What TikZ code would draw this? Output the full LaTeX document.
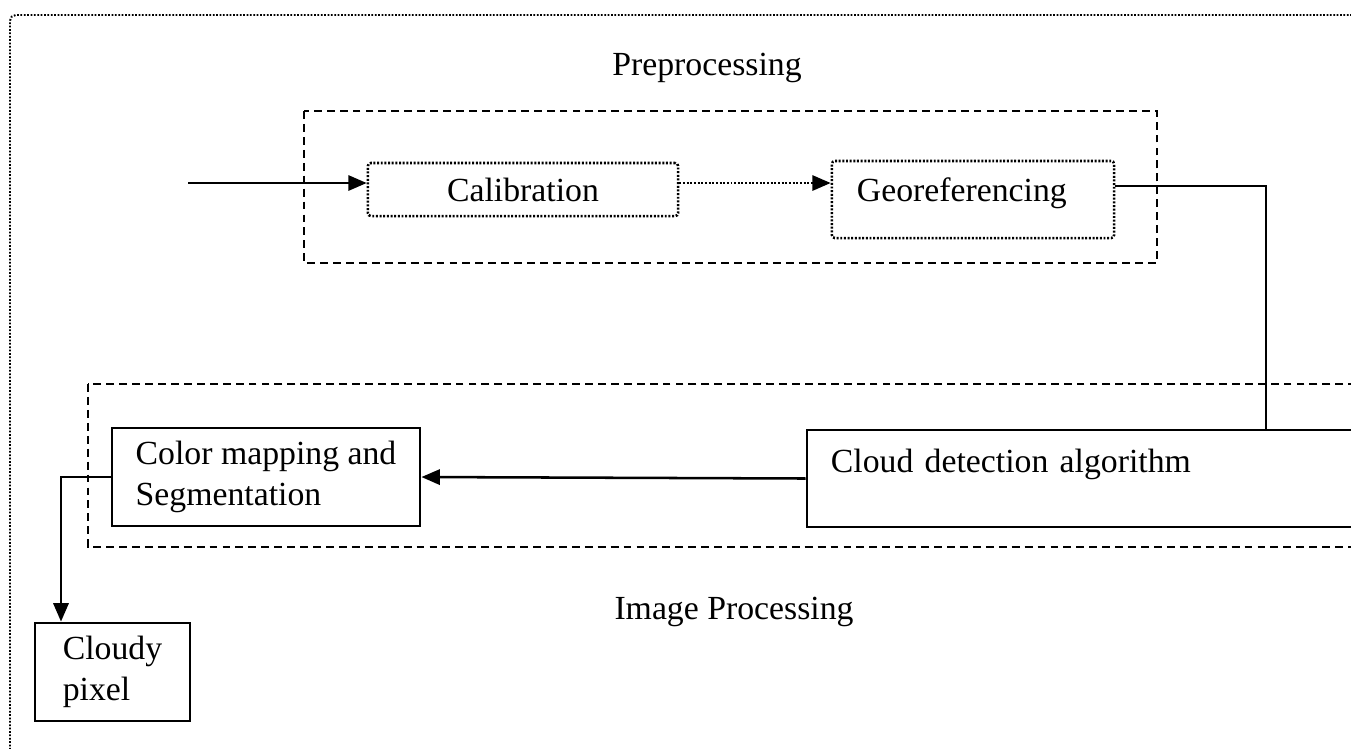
\documentclass[tikz,border=0pt]{standalone}
\usepackage{fontspec}
\setmainfont{Liberation Serif}
\usetikzlibrary{arrows.meta}
\tikzset{
dottedboxv1/.style={rectangle, draw=black!100,fill=none,line width=0.9pt, dash pattern=on 0.7pt off 0.6pt, rounded corners=1pt, inner sep=0pt},
solidboxv1/.style={rectangle, draw=black!100,fill=none,line width=1pt, inner sep=0pt},
groupboxv1/.style={draw=black!100,line width=0.9pt, dash pattern=on 2.8pt off 1.8pt},
titlenodev1/.style={inner sep=0pt},
arrowv1/.style={-{Triangle[length=2.3mm,width=1.9mm]}},
}

\begin{document}
\begin{tikzpicture}[x=0.0125cm, y=-0.0125cm, every node/.style={font=\fontsize{12}{14.4}\selectfont}]
\useasboundingbox (0,0) rectangle (1351,748);
\clip (0,0) rectangle (1351,748);
\draw[line width=0.7pt, dash pattern=on 0.6pt off 0.6pt, rounded corners=2pt] (10,780) -- (10,15) -- (1380,15);

\node[titlenodev1] at (707,68) (pretitle) {Preprocessing};
\draw[groupboxv1] (304,111) rectangle (1157,263);
\node[dottedboxv1, minimum width=3.875cm, minimum height=0.6625cm] at (523,189.5) (calib) {Calibration};
\node[dottedboxv1, minimum width=3.525cm, minimum height=0.9625cm, text width=2.9cm, inner xsep=0.3125cm, align=left, text depth=0.24cm] at (973,199.5) (georef) {Georeferencing};
\coordinate (inputstart) at (188,183);
\draw[line width=0.9pt,black,arrowv1] (inputstart) -- (inputstart -| calib.west);
\draw[black,line width=0.9pt, dash pattern=on 0.7pt off 0.6pt,arrowv1] (calib.east |- inputstart) -- (georef.west |- inputstart);

\node[titlenodev1] at (734,612) (imgtitle) {Image Processing};
\draw[groupboxv1] (88,384) rectangle (1400,547);
\node[solidboxv1, minimum width=7.6625cm, minimum height=1.2125cm, text width=7.0625cm, inner xsep=0.3cm, align=left, text depth=0.45cm] at (1113.5,478.5) (cloud) {Cloud detection algorithm};
\node[solidboxv1, minimum width=3.85cm, minimum height=1.225cm, align=left] at (266,477) (colormap) {Color mapping and\\Segmentation};
\node[solidboxv1, minimum width=1.9375cm, minimum height=1.225cm, align=left] at (112.5,672) (cloudy) {Cloudy\\pixel};

\coordinate (georefturn) at (1266,186);
\draw[line width=0.9pt,black] (georef.east |- georefturn) -- (georefturn) -- (georefturn |- cloud.north);
\draw[line width=0.9pt,black,arrowv1] (cloud.west) -- (colormap.east);
\coordinate (cloudyturn) at (61,476);
\draw[line width=0.9pt,black,arrowv1] (colormap.west) -- (colormap.west -| cloudyturn) -- (cloudyturn |- cloudy.north);
\end{tikzpicture}
\end{document}
